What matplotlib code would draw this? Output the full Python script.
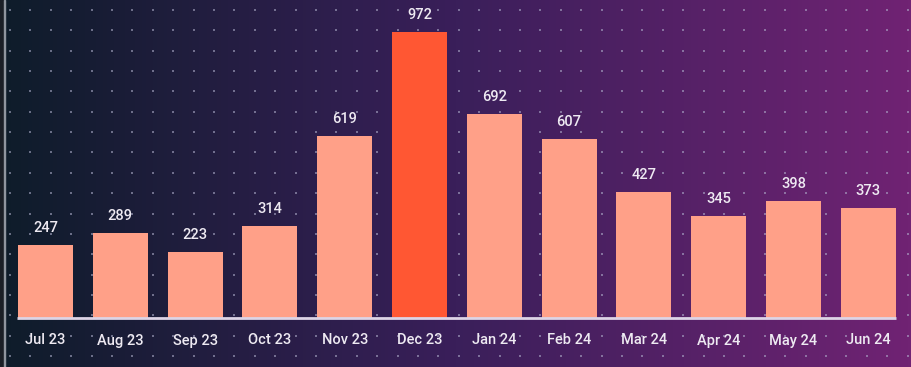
import numpy as np
import matplotlib.pyplot as plt
from matplotlib.colors import LinearSegmentedColormap
from matplotlib.patches import Rectangle

months = ['Jul 23', 'Aug 23', 'Sep 23', 'Oct 23', 'Nov 23', 'Dec 23',
          'Jan 24', 'Feb 24', 'Mar 24', 'Apr 24', 'May 24', 'Jun 24']
values = [247, 289, 223, 314, 619, 972, 692, 607, 427, 345, 398, 373]
highlight = 'Dec 23'

W, H = 912, 367
fig = plt.figure(figsize=(W / 100, H / 100), dpi=100)
ax = fig.add_axes([0, 0, 1, 1])

# pixel layout -> data limits
step_px = 74.8
x0_px = 45.5
base_px = 49          # baseline from bottom
unit_px = 0.2944      # pixels per value unit
ax.set_xlim(-x0_px / step_px, (W - x0_px) / step_px)
ax.set_ylim(-base_px / unit_px, (H - base_px) / unit_px)
ax.axis('off')

# background gradient
cmap = LinearSegmentedColormap.from_list('bg', ['#0e1c2a', '#3a1f5a', '#702373'])
grad = np.linspace(0, 1, 256).reshape(1, -1)
ax.imshow(grad, cmap=cmap, aspect='auto', extent=[0, 1, 0, 1],
          transform=ax.transAxes, zorder=0)

# dot grid
dx = np.arange(10, W, 20.4) / W
dy = 1 - np.arange(10, H, 20.35) / H
gx, gy = np.meshgrid(dx, dy)
ax.scatter(gx.ravel(), gy.ravel(), s=3, marker='s', color='#b4b4d0', alpha=0.55,
           linewidths=0, transform=ax.transAxes, zorder=1)

# left frame edge
ax.add_patch(Rectangle((0, 0), 4 / W, 1, transform=ax.transAxes,
                       color='#1b1f26', zorder=5))
ax.add_patch(Rectangle((4 / W, 0), 1.2 / W, 1, transform=ax.transAxes,
                       color='#8f959e', zorder=6))

x = np.arange(len(months))
colors = ['#ff5733' if m == highlight else '#ffa088' for m in months]
ax.bar(x, values, width=0.735, color=colors, zorder=3)
ax.plot([x[0] - 0.38, x[-1] + 0.37], [0, 0], color='#ddd4e6', lw=2, zorder=4,
        solid_capstyle='butt')

for xi, v in zip(x, values):
    ax.text(xi, v + 17 / unit_px, str(v), ha='center', va='center',
            fontsize=10.5, color='#eeeaf2', family='Roboto', fontweight='medium',
            zorder=5)
for xi, m in zip(x, months):
    ax.text(xi, -22.5 / unit_px, m, ha='center', va='center',
            fontsize=10.5, color='#eeeaf2', family='Roboto', fontweight='medium',
            zorder=5)

fig.savefig('out.png', dpi=100)
